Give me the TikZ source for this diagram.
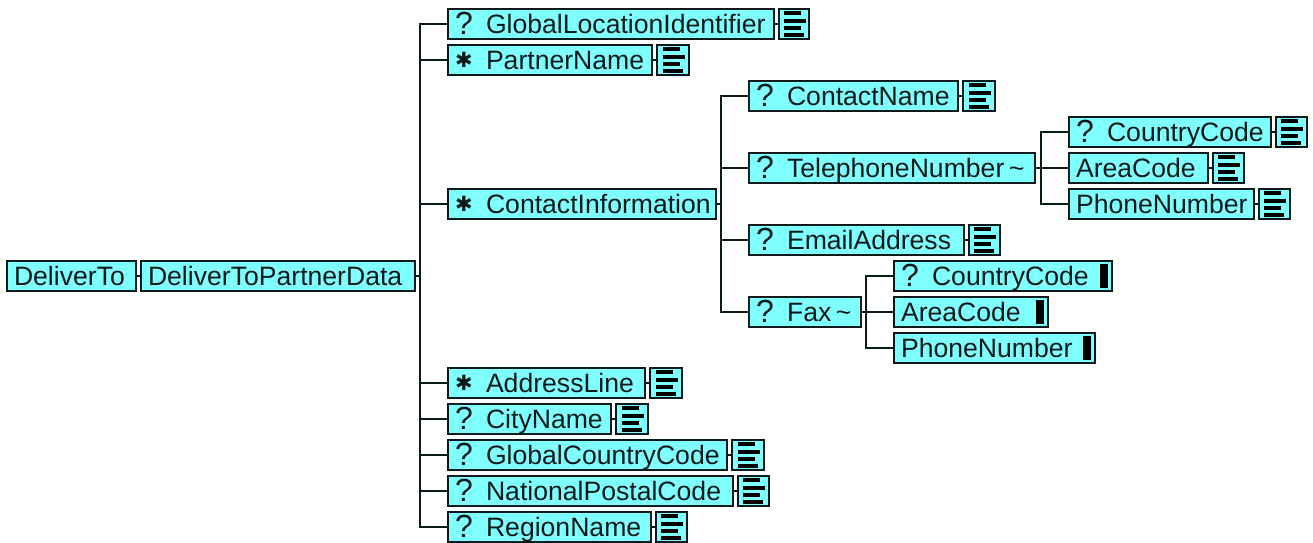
\documentclass[tikz,border=0pt]{standalone}
\usepackage{fontspec}
\setmainfont{Liberation Sans}
\newfontfamily\symfont{DejaVu Sans}
\definecolor{boxfill}{HTML}{80FFFF}
\definecolor{ink}{HTML}{0A1A1A}
\tikzset{
  elbox/.style={draw=ink,line width=2pt,fill=boxfill,inner sep=0pt,text=ink,minimum height=30pt,
    text height=20pt,text depth=2pt,align=left,font=\fontsize{26.6}{30}\selectfont},
  iconbox/.style={draw=ink,line width=2pt,fill=boxfill,inner sep=0pt,minimum height=30pt},
  link/.style={draw=ink,line width=2pt},
  bar/.style={fill=black,inner sep=0pt,draw=none}
}
\newcommand{\qm}{\makebox[31pt][l]{\raisebox{-1.5pt}{\fontsize{32}{32}\selectfont ?}}}
\newcommand{\st}{\makebox[31pt][l]{\raisebox{2pt}{\symfont\fontsize{21}{21}\selectfont ✱}}}
% name x1 x2 y content
\newcommand{\bx}[5]{%
  \pgfmathsetmacro{\bxw}{#3-#2}%
  \pgfmathsetmacro{\bxc}{(#2+#3)/2}%
  \pgfmathsetmacro{\bxt}{#3-#2-14}%
  \node[elbox,minimum width=\bxw pt,text width=\bxt pt] (#1) at (\bxc,#4) {#5};}
% owner x1 x2 : icon with text lines
\newcommand{\ico}[4]{%
  \pgfmathsetmacro{\bxw}{#3-#2}%
  \pgfmathsetmacro{\bxc}{(#2+#3)/2}%
  \node[iconbox,minimum width=\bxw pt] (#1-i) at (\bxc,#4) {};
  \fill[black] ([xshift=-10.5pt,yshift=13pt]#1-i.center) rectangle ++(17pt,-4pt);
  \fill[black] ([xshift=-10.5pt,yshift=5.5pt]#1-i.center) rectangle ++(22pt,-4pt);
  \fill[black] ([xshift=-10.5pt,yshift=-2pt]#1-i.center) rectangle ++(17pt,-4pt);
  \fill[black] ([xshift=-10.5pt,yshift=-9pt]#1-i.center) rectangle ++(20pt,-4pt);
  \draw[link] (#1.east) -- (#1-i.west);}
\newcommand{\solid}[3]{%
  \node[bar,minimum width=8pt,minimum height=24pt,anchor=west] (#1-b) at (#2,#3) {};}
\begin{document}
\begin{tikzpicture}[x=1pt,y=-1pt]
\useasboundingbox (0,0) rectangle (1313,542);
\bx{root}{7}{136}{276}{DeliverTo}
\bx{data}{141}{415}{276}{DeliverToPartnerData}
\bx{gli}{448}{774}{24}{\qm GlobalLocationIdentifier}
\bx{pn}{448}{652}{60}{\st PartnerName}
\bx{ci}{448}{716}{204}{\st ContactInformation}
\bx{al}{448}{645}{383}{\st AddressLine}
\bx{cn}{448}{611}{419}{\qm CityName}
\bx{gcc}{448}{727}{455}{\qm GlobalCountryCode}
\bx{npc}{448}{733}{491}{\qm NationalPostalCode}
\bx{rn}{448}{651}{527}{\qm RegionName}
\bx{cname}{749}{958}{96}{\qm ContactName}
\bx{tel}{749}{1035}{168}{\qm TelephoneNumber\,\textasciitilde}
\bx{em}{749}{964}{240}{\qm EmailAddress}
\bx{fax}{749}{861}{312}{\qm Fax\,\textasciitilde}
\bx{tcc}{1069}{1271}{132}{\qm CountryCode}
\bx{tac}{1069}{1208}{168}{AreaCode}
\bx{tpn}{1069}{1254}{204}{PhoneNumber}
\bx{fcc}{894}{1112}{276}{\qm CountryCode}
\bx{fac}{894}{1048}{312}{AreaCode}
\bx{fpn}{894}{1095}{348}{PhoneNumber}
\ico{gli}{779}{809}{24}
\ico{pn}{657}{689}{60}
\ico{al}{650}{682}{383}
\ico{cn}{616}{648}{419}
\ico{gcc}{732}{764}{455}
\ico{npc}{738}{769}{491}
\ico{rn}{656}{687}{527}
\ico{cname}{963}{995}{96}
\ico{em}{969}{1000}{240}
\ico{tcc}{1276}{1307}{132}
\ico{tac}{1213}{1244}{168}
\ico{tpn}{1259}{1290}{204}
\solid{fcc}{1100}{276}
\solid{fac}{1036}{312}
\solid{fpn}{1083}{348}
\draw[link] (root.east) -- (data.west);
\foreach \c in {gli,pn,ci,al,cn,gcc,npc,rn}
  \draw[link] (data.east) -- ++(4,0) |- (\c.west);
\foreach \c in {cname,tel,em,fax}
  \draw[link] (ci.east) -- ++(4,0) |- (\c.west);
\foreach \c in {tcc,tac,tpn}
  \draw[link] (tel.east) -- ++(5,0) |- (\c.west);
\foreach \c in {fcc,fac,fpn}
  \draw[link] (fax.east) -- ++(4,0) |- (\c.west);
\end{tikzpicture}
\end{document}
